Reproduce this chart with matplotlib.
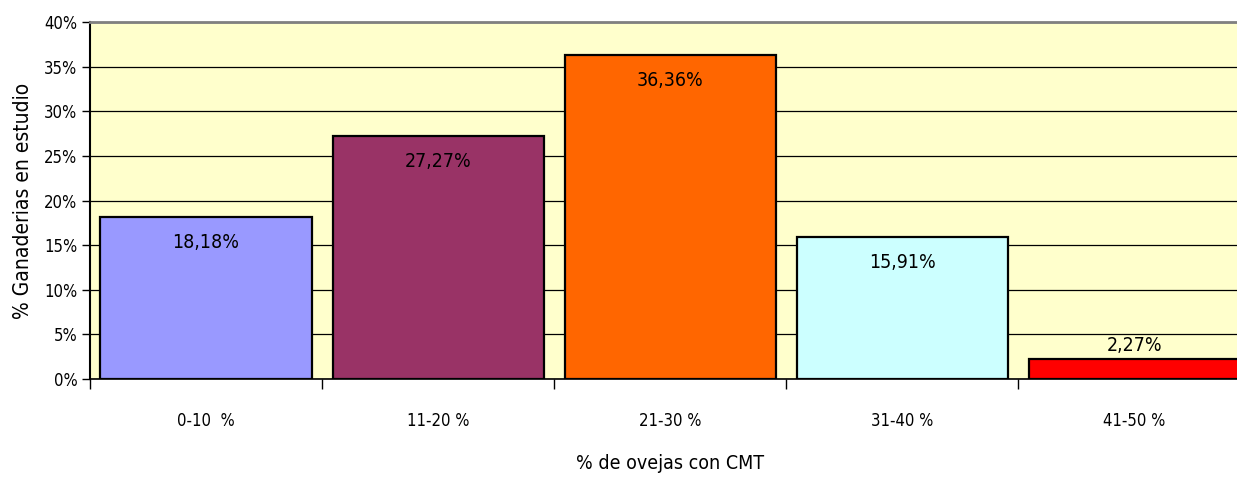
import matplotlib
matplotlib.use('Agg')
import matplotlib.pyplot as plt
from matplotlib.ticker import FixedLocator

categories = ['0-10  %', '11-20 %', '21-30 %', '31-40 %', '41-50 %']
values = [18.18, 27.27, 36.36, 15.91, 2.27]
colors = ['#9999FF', '#993366', '#FF6600', '#CCFFFF', '#FF0000']
yticks = [0, 5, 10, 15, 20, 25, 30, 35, 40]

plt.rcParams['font.family'] = ['Liberation Sans Narrow', 'DejaVu Sans']
plt.rcParams['font.stretch'] = 'condensed'

fig = plt.figure(figsize=(12.37, 4.8), dpi=100)
ax = fig.add_axes([0.0728, 0.2104, 0.938, 0.7437])
ax.set_facecolor('#FFFFCC')

x = list(range(len(categories)))
ax.bar(x, values, width=0.91, color=colors, edgecolor='black', linewidth=1.6, zorder=3)

for xi, v in zip(x, values):
    if v > 5:
        ax.text(xi, v - 1.8, f'{v:.2f}%'.replace('.', ','), ha='center', va='top',
                fontsize=14, zorder=4)
    else:
        ax.text(xi, v + 0.4, f'{v:.2f}%'.replace('.', ','), ha='center', va='bottom',
                fontsize=14, zorder=4)

ax.set_xlim(-0.5, 4.5)
ax.set_ylim(0, 40)
ax.set_yticks(yticks)
ax.set_yticklabels([f'{t}%' for t in yticks], fontsize=12)
ax.yaxis.grid(True, color='black', linewidth=0.9, zorder=0)
ax.tick_params(axis='y', direction='out', length=6, width=1, pad=3)

ax.set_xticks(x)
ax.set_xticklabels(categories, fontsize=12)
ax.tick_params(axis='x', which='major', length=0, pad=24)
ax.xaxis.set_minor_locator(FixedLocator([-0.5, 0.5, 1.5, 2.5, 3.5]))
ax.tick_params(axis='x', which='minor', direction='out', length=7, width=1)

ax.spines['right'].set_visible(False)
ax.spines['top'].set_color('#808080')
ax.spines['top'].set_linewidth(2)
ax.spines['left'].set_linewidth(1.5)
ax.spines['bottom'].set_linewidth(1.2)

ax.set_ylabel('% Ganaderias en estudio', fontsize=15, labelpad=8)
ax.set_xlabel('% de ovejas con CMT', fontsize=14, labelpad=17)

fig.savefig('out.png', dpi=100)
